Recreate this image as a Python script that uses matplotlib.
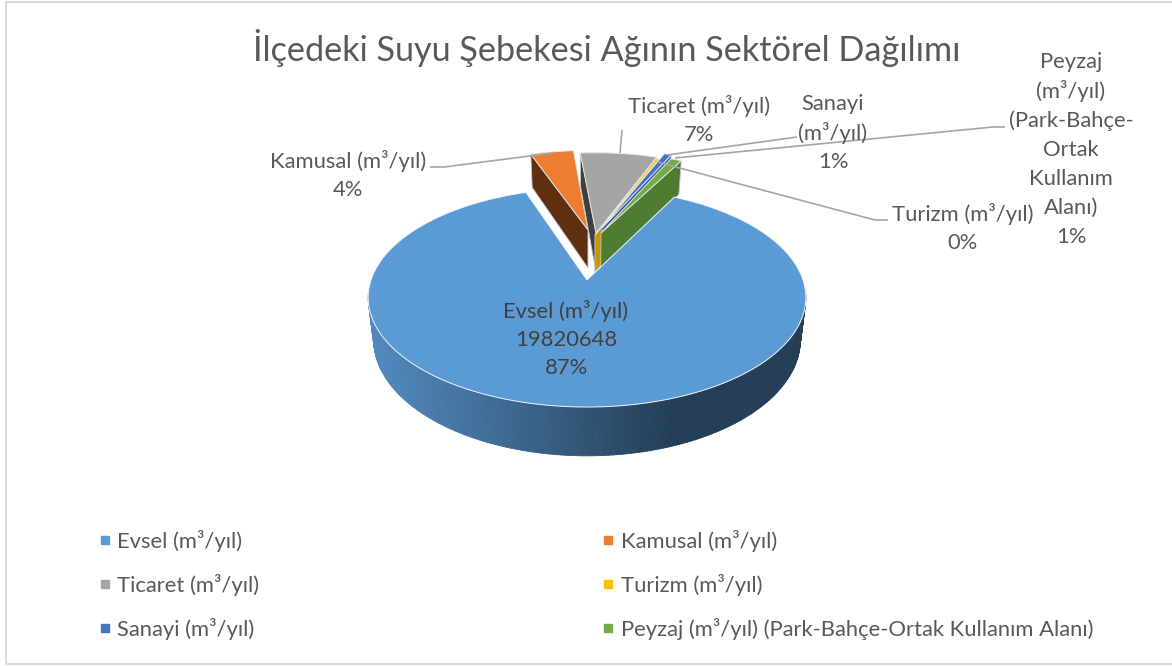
import numpy as np
import matplotlib
matplotlib.use('Agg')
import matplotlib.pyplot as plt
from matplotlib.collections import PolyCollection
from matplotlib.lines import Line2D

plt.rcParams['font.family'] = ['Lato', 'DejaVu Sans']

names = ['Evsel (m³/yıl)', 'Kamusal (m³/yıl)', 'Ticaret (m³/yıl)', 'Turizm (m³/yıl)',
         'Sanayi (m³/yıl)', 'Peyzaj (m³/yıl) (Park-Bahçe-Ortak Kullanım Alanı)']
values = [19820648, 900000, 1600000, 60000, 150000, 230000]
title = 'İlçedeki Suyu Şebekesi Ağının Sektörel Dağılımı'
peyzaj_lines = ['Peyzaj', '(m³/yıl)', '(Park-Bahçe-', 'Ortak', 'Kullanım', 'Alanı)']

colors = ['#5B9BD5', '#ED7D31', '#A5A5A5', '#FFC000', '#4472C4', '#70AD47']
wall_colors = [None, '#5F2F12', '#3F3F3F', '#C99700', '#2F5597', '#4F7C31']
wall_side = [0, 0, 0, 1, 1, 1]  # hangi kenar duvari gorunuyor (0 bas, 1 son)
apex_px = [(587, 280), (588, 230), (596, 233), (595, 235), (602, 228), (601, 233)]

# perspektif parametreleri
K, A, B, X0, Y0, D, SHR = 0.16, 216, 106.7, 587, 280, 41, 0.975
START = 27.5


def proj(u, v):
    s = 1 / (1 + K * v)
    return X0 + A * u * s, Y0 - B * v * s


def proj_low(u, v):
    s = 1 / (1 + K * v)
    return X0 + SHR * A * u * s, Y0 - B * v * s + D * s


def inv(x, y):
    v = (Y0 - y) / (B - K * (Y0 - y))
    return (x - X0) * (1 + K * v) / A, v


fig = plt.figure(figsize=(11.72, 6.66), dpi=100)
ax = fig.add_axes([0, 0, 1, 1])
ax.set_xlim(0, 1172)
ax.set_ylim(666, 0)
ax.axis('off')

# cerceve, sag kenar resmin disinda kaliyor
ax.plot([1172, 6, 6, 1172], [1.5, 1.5, 664, 664], color='#D9D9D9', lw=1.5)

total = sum(values)
edges = START + np.concatenate([[0], np.cumsum(values)]) * 360 / total
text_col = '#595959'

# arkadan one: once kucuk dilimler, en son Evsel
for i in [1, 2, 3, 4, 5, 0]:
    t = np.radians(np.linspace(edges[i], edges[i + 1], max(int(edges[i + 1] - edges[i]) * 2, 6)))
    cu, cv = inv(*apex_px[i])
    u = cu + np.sin(t)
    v = cv + np.cos(t)
    if i == 0:
        # dis duvar, soldan saga koyulasan
        tw = np.radians(np.linspace(265, 95, 171))
        uw, vw = cu + np.sin(tw), cv + np.cos(tw)
        xt, yt = proj(uw, vw)
        xb, yb = proj_low(uw, vw)
        polys = [[(xt[j], yt[j]), (xt[j + 1], yt[j + 1]), (xb[j + 1], yb[j + 1]), (xb[j], yb[j])]
                 for j in range(len(tw) - 1)]
        shade = np.interp(xt[:-1], [370, 500, 670, 806], [0, 0.42, 1, 1])
        c0, c1 = np.array([0x52, 0x89, 0xBF]) / 255, np.array([0x24, 0x3E, 0x56]) / 255
        cols = [c0 + (c1 - c0) * s for s in shade]
        ax.add_collection(PolyCollection(polys, facecolors=cols, edgecolors=cols, linewidths=0.6))
    else:
        # radyal duvar
        k = wall_side[i]
        ou, ov = cu + np.sin(t[-k if k else 0]), cv + np.cos(t[-k if k else 0])
        p1, p2 = proj(cu, cv), proj(ou, ov)
        p3, p4 = proj_low(ou, ov), proj_low(cu, cv)
        ax.fill([p1[0], p2[0], p3[0], p4[0]], [p1[1], p2[1], p3[1], p4[1]],
                fc=wall_colors[i], ec='#C8C8C8', lw=0.6)
    x, y = proj(np.r_[cu, u], np.r_[cv, v])
    ax.fill(x, y, fc=colors[i], ec='#E4E4E4' if i else '#F2F6FA', lw=0.7)

# kilavuz cizgileri
leaders = [([430, 444, 553], [167, 167, 153]),
           ([622, 620], [130, 153]),
           ([667, 797], [155, 137]),
           ([675, 993, 1005], [158, 127, 127]),
           ([657, 875, 888], [162, 220, 220])]
for lx, ly in leaders:
    ax.plot(lx, ly, color='#A6A6A6', lw=1.2, solid_capstyle='butt')

pct = ['%d%%' % round(100 * val / total) for val in values]
fs = 15.8
ls = 1.48
ax.text(566, 339, 'Evsel (m³/yıl)\n%d\n%s' % (values[0], pct[0]), ha='center', va='center',
        fontsize=fs, color='#404040', linespacing=ls)
ax.text(348, 175, names[1] + '\n' + pct[1], ha='center', va='center', fontsize=fs, color=text_col, linespacing=ls)
ax.text(699, 120, names[2] + '\n' + pct[2], ha='center', va='center', fontsize=fs, color=text_col, linespacing=ls)
ax.text(963, 228, names[3] + '\n' + pct[3], ha='center', va='center', fontsize=fs, color=text_col, linespacing=ls)
ax.text(833, 133, 'Sanayi\n(m³/yıl)\n' + pct[4], ha='center', va='center', fontsize=fs, color=text_col, linespacing=ls)
# uzun etiket, satir satir
for j, line in enumerate(peyzaj_lines + [pct[5]]):
    ax.text(1071, 62 + 29.2 * j, line, ha='center', va='center', fontsize=fs, color=text_col)

ax.text(607, 48, title, ha='center', va='center', fontsize=24.7, color=text_col)

order = [0, 2, 4, 1, 3, 5]
handles = [Line2D([], [], ls='', marker='s', ms=5.8, color=colors[i]) for i in order]
ax.legend(handles, [names[i] for i in order], ncol=2, loc='upper left', bbox_to_anchor=(80.5, 512.5),
          bbox_transform=ax.transData, frameon=False, fontsize=fs, labelcolor=text_col,
          labelspacing=0.99, handlelength=0.6, handletextpad=0.27, columnspacing=15.6, borderpad=0.3)

fig.savefig('out.png', dpi=100)
